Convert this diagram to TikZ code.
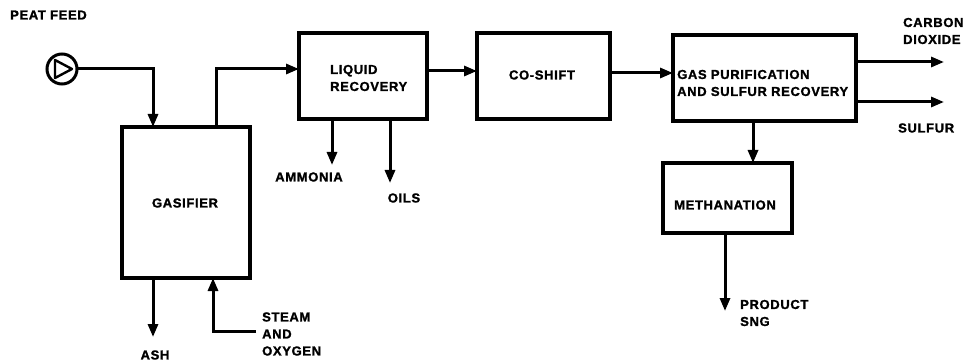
\documentclass[tikz,border=0pt]{standalone}
\usepackage{fontspec}
\setmainfont{Liberation Sans}[LetterSpace=5, BoldFeatures={FakeBold=1.5}]
\usetikzlibrary{arrows.meta,calc}
\begin{document}
\begin{tikzpicture}[x=1pt,y=-1pt,
  every node/.style={font=\fontsize{13}{15}\selectfont\bfseries, inner sep=0pt},
  unit/.style={draw, line width=4.5pt, minimum width=#1, outer sep=0pt},
  flow/.style={line width=3pt, -{Triangle[length=13pt,width=10pt]}},
  lbl/.style={anchor=west, align=left}]
\useasboundingbox (0,0) rectangle (974,363);

% labels
\node[lbl] (peatlbl) at (10,15) {PEAT FEED};

% pump
\node[draw, circle, line width=3pt, minimum size=30pt, outer sep=0pt] (pump) at (62,69) {};
\draw[line width=2.4pt, line join=round] ($(pump.center)+(-7,-9)$) -- ($(pump.center)+(10,0)$) -- ($(pump.center)+(-7,9)$) -- cycle;

% units
\node[unit=128pt, minimum height=151pt] (gasifier) at (186,202.5) {};
\node (gaslbl) at (185,203) {GASIFIER};
\node[unit=128pt, minimum height=86pt] (liquid) at (363,76) {};
\node[lbl] (liqlbl) at (330,78) {LIQUID\\[2pt]RECOVERY};
\node[unit=133pt, minimum height=86pt] (coshift) at (543.5,76) {};
\node (colbl) at (542,75) {CO-SHIFT};
\node[unit=183pt, minimum height=86pt] (gaspur) at (764.5,78) {};
\node[lbl] (gplbl) at (677,83) {GAS PURIFICATION\\[2pt]AND SULFUR RECOVERY};
\node[unit=129pt, minimum height=70pt] (meth) at (727.5,198) {};
\node (methlbl) at (725,205) {METHANATION};

% output labels
\node (ammlbl) at (309,177) {AMMONIA};
\node (oilslbl) at (404,198) {OILS};
\node (ashlbl) at (155,355) {ASH};
\node[lbl] (steamlbl) at (262,334) {STEAM\\[2pt]AND\\[2pt]OXYGEN};
\node[lbl] (prodlbl) at (740,313) {PRODUCT\\[2pt]SNG};
\node[lbl] (co2lbl) at (903,31) {CARBON\\[2pt]DIOXIDE};
\node[lbl] (sulflbl) at (898,128) {SULFUR};

% coordinates for free ends and bends
\coordinate (feedx) at (153,69);
\coordinate (gasoutx) at (216,69);
\coordinate (ammend) at (332,165);
\coordinate (oilsend) at (390,183);
\coordinate (ashend) at (153,337);
\coordinate (steamstart) at (256,331);
\coordinate (steamx) at (213,331);
\coordinate (liqy) at (0,71);
\coordinate (coy) at (0,73);
\coordinate (co2end) at (944,62);
\coordinate (sulfend) at (944,102);
\coordinate (methx) at (753,0);
\coordinate (prodend) at (725,311);

% connectors
\draw[flow] (pump.east) -- (feedx) -- (feedx |- gasifier.north);
\draw[flow] (gasoutx |- gasifier.north) -- (gasoutx) -- (liquid.west |- gasoutx);
\draw[flow] (liquid.east |- liqy) -- (coshift.west |- liqy);
\draw[flow] (coshift.east |- coy) -- (gaspur.west |- coy);
\draw[flow] (gaspur.east |- co2end) -- (co2end);
\draw[flow] (gaspur.east |- sulfend) -- (sulfend);
\draw[flow] (methx |- gaspur.south) -- (methx |- meth.north);
\draw[flow] (prodend |- meth.south) -- (prodend);
\draw[flow] (ammend |- liquid.south) -- (ammend);
\draw[flow] (oilsend |- liquid.south) -- (oilsend);
\draw[flow] (ashend |- gasifier.south) -- (ashend);
\draw[flow] (steamstart) -- (steamx) -- (steamx |- gasifier.south);
\end{tikzpicture}
\end{document}
